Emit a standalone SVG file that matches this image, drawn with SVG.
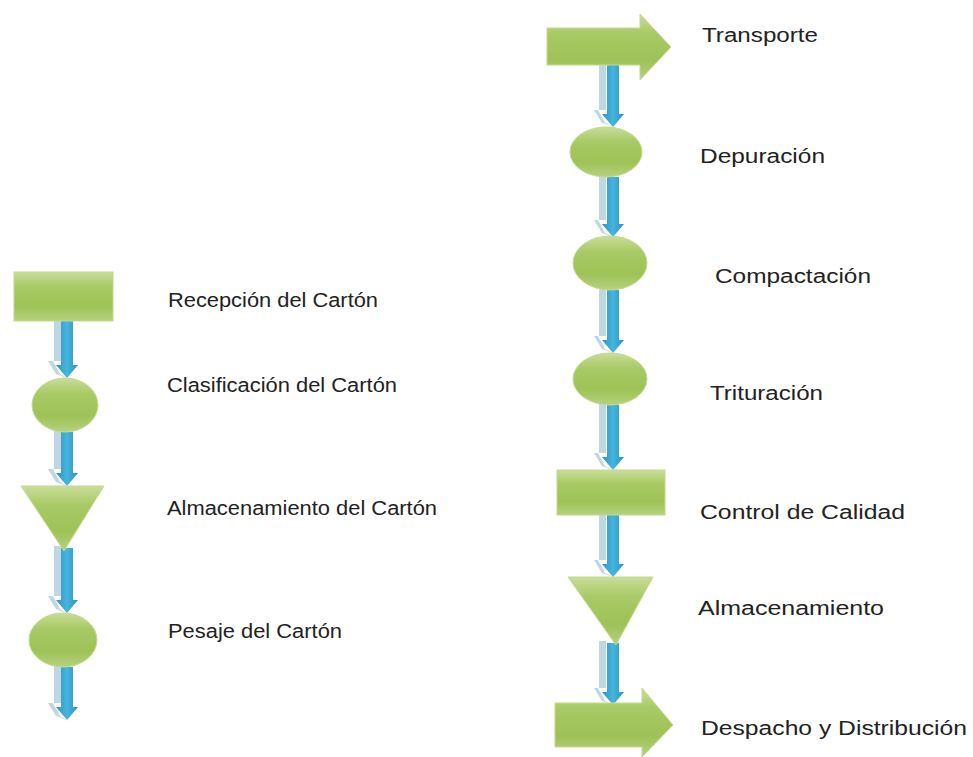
<svg xmlns="http://www.w3.org/2000/svg" width="973" height="757" viewBox="0 0 973 757">
<style>
.shape{fill:url(#green);stroke:#c3d98f;stroke-width:1}
.arr{fill:url(#blue)}
.sh{fill:#b4cfe0;opacity:0.85}
.lbl{font-family:"Liberation Sans",Arial,sans-serif;font-size:20px;fill:#222}
</style>
<defs>
<linearGradient id="green" x1="0" y1="0" x2="0" y2="1">
<stop offset="0" stop-color="#c9dd98"/>
<stop offset="0.3" stop-color="#a8c964"/>
<stop offset="0.7" stop-color="#9ec257"/>
<stop offset="1" stop-color="#b6d27e"/>
</linearGradient>
<linearGradient id="blue" x1="0" y1="0" x2="1" y2="0">
<stop offset="0" stop-color="#2f93c4"/>
<stop offset="0.5" stop-color="#45b6dd"/>
<stop offset="1" stop-color="#2e8fbf"/>
</linearGradient>
</defs>
<rect width="973" height="757" fill="#ffffff"/>
<g id="connectors">
<path class="sh" d="M54,319 H61 V361 H53 L60,374 L67,378 L56,374 L48,361 H54 Z"/>
<path class="arr" d="M61,321 H73 V365 H78 L67,378 L56,365 H61 Z"/>
<path class="sh" d="M54,430 H61 V469 H53 L60,482 L67,486 L56,482 L48,469 H54 Z"/>
<path class="arr" d="M61,432 H73 V473 H78 L67,486 L56,473 H61 Z"/>
<path class="sh" d="M54,546 H61 V596 H53 L60,609 L67,613 L56,609 L48,596 H54 Z"/>
<path class="arr" d="M61,548 H73 V600 H78 L67,613 L56,600 H61 Z"/>
<path class="sh" d="M54,665 H61 V703 H53 L60,716 L67,720 L56,716 L48,703 H54 Z"/>
<path class="arr" d="M61,667 H73 V707 H78 L67,720 L56,707 H61 Z"/>
<path class="sh" d="M599,63 H606 V110 H598 L605,123 L613,127 L602,123 L594,110 H599 Z"/>
<path class="arr" d="M607,65 H619 V114 H624 L613,127 L602,114 H607 Z"/>
<path class="sh" d="M599,175 H606 V220 H598 L605,233 L613,237 L602,233 L594,220 H599 Z"/>
<path class="arr" d="M607,177 H619 V224 H624 L613,237 L602,224 H607 Z"/>
<path class="sh" d="M599,288 H606 V336 H598 L605,349 L613,353 L602,349 L594,336 H599 Z"/>
<path class="arr" d="M607,290 H619 V340 H624 L613,353 L602,340 H607 Z"/>
<path class="sh" d="M599,403 H606 V453 H598 L605,466 L613,470 L602,466 L594,453 H599 Z"/>
<path class="arr" d="M607,405 H619 V457 H624 L613,470 L602,457 H607 Z"/>
<path class="sh" d="M599,513 H606 V560 H598 L605,573 L613,577 L602,573 L594,560 H599 Z"/>
<path class="arr" d="M607,515 H619 V564 H624 L613,577 L602,564 H607 Z"/>
<path class="sh" d="M599,641 H606 V688 H598 L605,701 L613,705 L602,701 L594,688 H599 Z"/>
<path class="arr" d="M607,643 H619 V692 H624 L613,705 L602,692 H607 Z"/>
</g>
<g id="n-recepcion"><rect class="shape" x="14" y="272" width="99" height="49"/><text class="lbl" x="168" y="307" textLength="210" lengthAdjust="spacingAndGlyphs">Recepción del Cartón</text></g>
<g id="n-clasificacion"><ellipse class="shape" cx="65" cy="405" rx="33" ry="27"/><text class="lbl" x="167" y="392" textLength="230" lengthAdjust="spacingAndGlyphs">Clasificación del Cartón</text></g>
<g id="n-almacenamiento-carton"><polygon class="shape" points="21,486 104,486 64,551"/><text class="lbl" x="167" y="515" textLength="270" lengthAdjust="spacingAndGlyphs">Almacenamiento del Cartón</text></g>
<g id="n-pesaje"><ellipse class="shape" cx="63" cy="640" rx="34" ry="27"/><text class="lbl" x="168" y="638" textLength="174" lengthAdjust="spacingAndGlyphs">Pesaje del Cartón</text></g>
<g id="n-transporte"><path class="shape" d="M547,28 H640 V14 L671,47 L640,80 V65 H547 Z"/><text class="lbl" x="702" y="42" textLength="116" lengthAdjust="spacingAndGlyphs">Transporte</text></g>
<g id="n-depuracion"><ellipse class="shape" cx="606" cy="152" rx="36" ry="25"/><text class="lbl" x="700" y="163" textLength="125" lengthAdjust="spacingAndGlyphs">Depuración</text></g>
<g id="n-compactacion"><ellipse class="shape" cx="610" cy="263" rx="37" ry="27"/><text class="lbl" x="715" y="283" textLength="156" lengthAdjust="spacingAndGlyphs">Compactación</text></g>
<g id="n-trituracion"><ellipse class="shape" cx="610" cy="379" rx="37" ry="26"/><text class="lbl" x="710" y="400" textLength="113" lengthAdjust="spacingAndGlyphs">Trituración</text></g>
<g id="n-control"><rect class="shape" x="557" y="470" width="108" height="45"/><text class="lbl" x="700" y="519" textLength="205" lengthAdjust="spacingAndGlyphs">Control de Calidad</text></g>
<g id="n-almacenamiento"><polygon class="shape" points="568,577 653,577 616,645"/><text class="lbl" x="698" y="615" textLength="186" lengthAdjust="spacingAndGlyphs">Almacenamiento</text></g>
<g id="n-despacho"><path class="shape" d="M555,703 H642 V688 L673,725 L642,757 V747 H555 Z"/><text class="lbl" x="701" y="735" textLength="266" lengthAdjust="spacingAndGlyphs">Despacho y Distribución</text></g>
</svg>
